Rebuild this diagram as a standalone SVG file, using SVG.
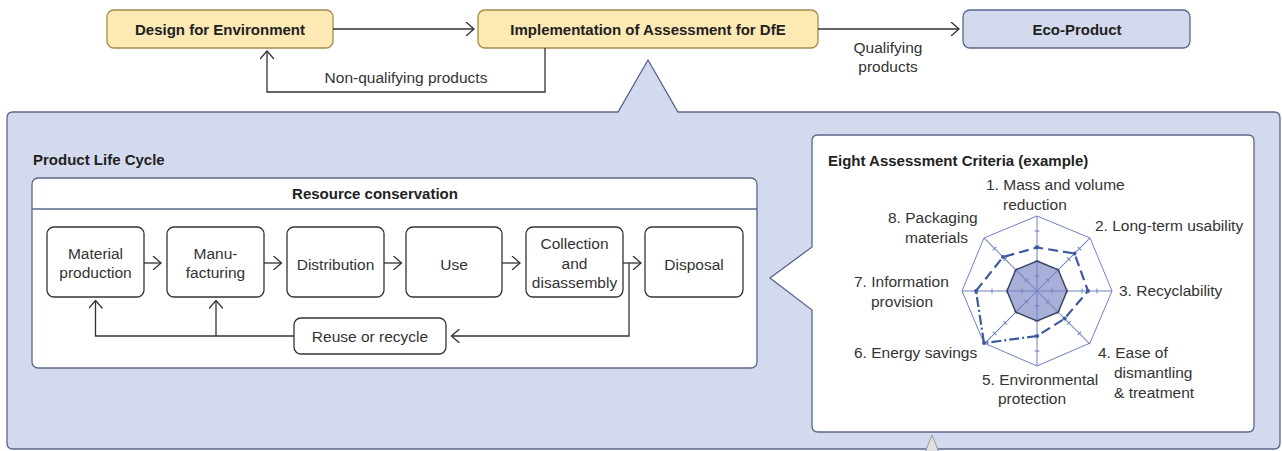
<svg xmlns="http://www.w3.org/2000/svg" xmlns:xlink="http://www.w3.org/1999/xlink" width="1282" height="451" viewBox="0 0 1282 451">
<style>
.t{font-family:"Liberation Sans",Arial,sans-serif;font-size:15.5px;fill:#333}
.b{font-family:"Liberation Sans",Arial,sans-serif;font-size:15px;font-weight:bold;fill:#222}
.m{text-anchor:middle}
.yel{fill:#fce9b4;stroke:#a38c4f;stroke-width:1.3}
.blu{fill:#d4daed;stroke:#59668a;stroke-width:1.3}
.wh{fill:#fff;stroke:#59668a;stroke-width:1.3}
.pb{fill:#fff;stroke:#333;stroke-width:1.3}
.con{fill:none;stroke:#333;stroke-width:1.3}
.ax{fill:none;stroke:#7080c0;stroke-width:1}
</style>
<defs>
<marker id="arr" viewBox="0 0 10 14" refX="9" refY="7" markerWidth="10" markerHeight="14" markerUnits="userSpaceOnUse" orient="auto">
<path d="M1,0 L9,7 L1,14" fill="none" stroke="#333" stroke-width="1.3"/>
</marker>
<g id="axis">
<line x1="1037" y1="291" x2="1037" y2="216"/>
<path d="M1034.5,276H1039.5M1034.5,261H1039.5M1034.5,246H1039.5M1034.5,231H1039.5"/>
</g>
</defs>

<!-- big panel -->
<g id="panel">
<path class="blu" d="M13,112 H618 L648,60 L678,112 H1274 Q1280,112 1280,118 V443 Q1280,449 1274,449 H13 Q7,449 7,443 V118 Q7,112 13,112 Z"/>
<path d="M922,460 L932,435 L942,460" fill="#e0e0e0" stroke="#999" stroke-width="1"/>
</g>

<g id="design">
<rect class="yel" x="107" y="10" width="226" height="38" rx="7"/>
<text class="b m" x="220" y="34.5">Design for Environment</text>
</g>
<g id="impl">
<rect class="yel" x="478" y="10" width="340" height="38" rx="7"/>
<text class="b m" x="648" y="34.5">Implementation of Assessment for DfE</text>
</g>
<g id="eco">
<rect class="blu" x="963" y="10" width="227" height="38" rx="7"/>
<text class="b m" x="1077" y="34.5">Eco-Product</text>
</g>

<!-- left life cycle -->
<g id="lifecycle">
<text class="b" x="33" y="165">Product Life Cycle</text>
<rect class="wh" x="32" y="178" width="725" height="190" rx="6"/>
<line x1="32" y1="209" x2="757" y2="209" stroke="#59668a" stroke-width="1.3"/>
<text class="b m" x="375" y="199">Resource conservation</text>
</g>
<g id="material">
<rect class="pb" x="47" y="227" width="97" height="70" rx="7"/>
<text class="t m" x="95.5" y="259">Material</text>
<text class="t m" x="95.5" y="278">production</text>
</g>
<g id="manufacturing">
<rect class="pb" x="167" y="227" width="97" height="70" rx="7"/>
<text class="t m" x="215.5" y="259">Manu-</text>
<text class="t m" x="215.5" y="278">facturing</text>
</g>
<g id="distribution">
<rect class="pb" x="287" y="227" width="97" height="70" rx="7"/>
<text class="t m" x="335.5" y="269.5">Distribution</text>
</g>
<g id="use">
<rect class="pb" x="406" y="227" width="96" height="70" rx="7"/>
<text class="t m" x="454" y="269.5">Use</text>
</g>
<g id="collection">
<rect class="pb" x="526" y="227" width="97" height="70" rx="7"/>
<text class="t m" x="574.5" y="249">Collection</text>
<text class="t m" x="574.5" y="268.5">and</text>
<text class="t m" x="574.5" y="288">disassembly</text>
</g>
<g id="disposal">
<rect class="pb" x="645" y="227" width="98" height="70" rx="7"/>
<text class="t m" x="694" y="269.5">Disposal</text>
</g>
<g id="reuse">
<rect class="pb" x="294" y="318" width="152" height="36" rx="7"/>
<text class="t m" x="370" y="341.5">Reuse or recycle</text>
</g>

<!-- connectors -->
<g id="connectors">
<path class="con" d="M333,29 H474" marker-end="url(#arr)"/>
<path class="con" d="M818,29 H959" marker-end="url(#arr)"/>
<path class="con" d="M545,48 V92 H267 V51" marker-end="url(#arr)"/>
<path class="con" d="M144,263 H161" marker-end="url(#arr)"/>
<path class="con" d="M264,263 H281.5" marker-end="url(#arr)"/>
<path class="con" d="M384,263 H401.5" marker-end="url(#arr)"/>
<path class="con" d="M502,263 H520" marker-end="url(#arr)"/>
<path class="con" d="M623,263 H641" marker-end="url(#arr)"/>
<path class="con" d="M629,263 V336 H451.5" marker-end="url(#arr)"/>
<path class="con" d="M294,336 H95.5 V300.5" marker-end="url(#arr)"/>
<path class="con" d="M216,336 V300.5" marker-end="url(#arr)"/>
</g>
<text class="t m" x="406" y="83">Non-qualifying products</text>
<text class="t m" x="888" y="53">Qualifying</text>
<text class="t m" x="888" y="71.5">products</text>

<!-- assessment criteria -->
<g id="criteria">
<path class="wh" d="M818,135 H1248 Q1254,135 1254,141 V426 Q1254,432 1248,432 H818 Q812,432 812,426 V310 L770,278 L812,247 V141 Q812,135 818,135 Z"/>
<text class="b" x="828" y="166">Eight Assessment Criteria (example)</text>
</g>
<g id="radar">
<polygon class="ax" points="1037,216 1090.03,237.97 1112,291 1090.03,343.03 1037,366 983.97,343.03 962,291 983.97,237.97"/>
<polygon points="1037,261 1058.21,269.79 1067,291 1058.21,312.21 1037,321 1015.79,312.21 1007,291 1015.79,269.79" fill="#a9b0d8"/>
<g class="ax">
<use xlink:href="#axis"/>
<use xlink:href="#axis" transform="rotate(45 1037 291)"/>
<use xlink:href="#axis" transform="rotate(90 1037 291)"/>
<use xlink:href="#axis" transform="rotate(135 1037 291)"/>
<use xlink:href="#axis" transform="rotate(180 1037 291)"/>
<use xlink:href="#axis" transform="rotate(225 1037 291)"/>
<use xlink:href="#axis" transform="rotate(270 1037 291)"/>
<use xlink:href="#axis" transform="rotate(315 1037 291)"/>
</g>
<polygon points="1037,261 1058.21,269.79 1067,291 1058.21,312.21 1037,321 1015.79,312.21 1007,291 1015.79,269.79" fill="none" stroke="#3c4566" stroke-width="1.5"/>
<path d="M976,291 L1003,257 L1037,247.5 L1074.5,253.5 L1088,291 L1064.6,318.6 L1037,336" fill="none" stroke="#3d5aa0" stroke-width="2.2" stroke-dasharray="10 5"/>
<path d="M1037,336 L983.97,343.03 L976,291" fill="none" stroke="#3d5aa0" stroke-width="2.2" stroke-dasharray="10 3 2 3"/>
<g fill="#3d5aa0">
<circle cx="976" cy="291" r="2"/><circle cx="1003" cy="257" r="2"/><circle cx="1037" cy="247.5" r="2"/><circle cx="1074.5" cy="253.5" r="2"/>
<circle cx="1088" cy="291" r="2"/><circle cx="1064.6" cy="318.6" r="2"/><circle cx="1037" cy="336" r="2"/><circle cx="983.97" cy="343.03" r="2"/>
</g>
</g>
<g id="radar-labels">
<text class="t" x="986" y="190">1. Mass and volume</text>
<text class="t" x="1003" y="210">reduction</text>
<text class="t" x="1095" y="231">2. Long-term usability</text>
<text class="t" x="1119" y="296">3. Recyclability</text>
<text class="t" x="1098" y="358">4. Ease of</text>
<text class="t" x="1114" y="378">dismantling</text>
<text class="t" x="1114" y="398">&amp; treatment</text>
<text class="t" x="982" y="385">5. Environmental</text>
<text class="t" x="998" y="404">protection</text>
<text class="t" x="854" y="358">6. Energy savings</text>
<text class="t" x="854" y="287">7. Information</text>
<text class="t" x="871" y="307">provision</text>
<text class="t" x="888" y="223">8. Packaging</text>
<text class="t" x="905" y="243">materials</text>
</g>
</svg>
